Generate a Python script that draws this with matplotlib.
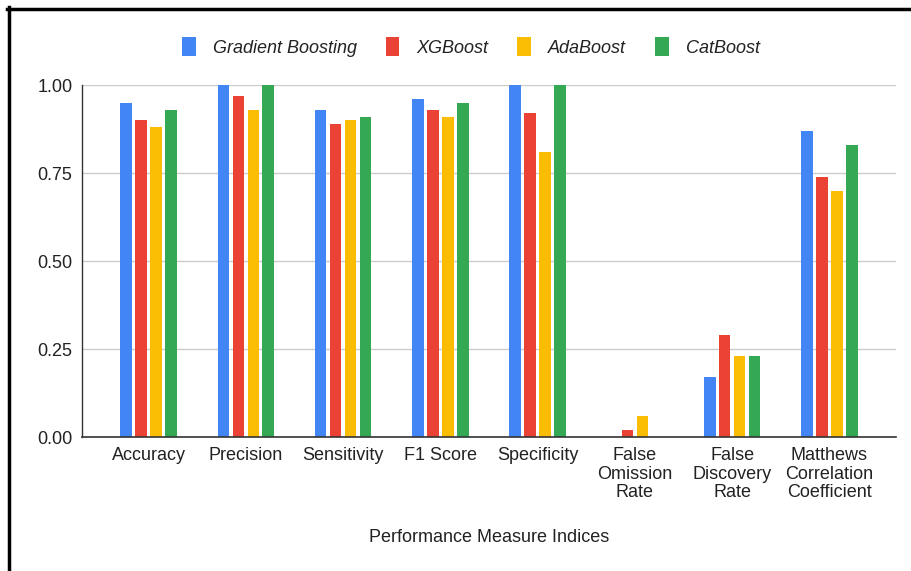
import matplotlib
matplotlib.use("Agg")
import matplotlib.pyplot as plt
from matplotlib.lines import Line2D
from matplotlib.patches import Patch
import numpy as np

categories = ["Accuracy", "Precision", "Sensitivity", "F1 Score", "Specificity",
              "False\nOmission\nRate", "False\nDiscovery\nRate",
              "Matthews\nCorrelation\nCoefficient"]
series_names = ["Gradient Boosting", "XGBoost", "AdaBoost", "CatBoost"]
gradient_boosting = [0.95, 1.00, 0.93, 0.96, 1.00, 0.00, 0.17, 0.87]
xgboost = [0.90, 0.97, 0.89, 0.93, 0.92, 0.02, 0.29, 0.74]
adaboost = [0.88, 0.93, 0.90, 0.91, 0.81, 0.06, 0.23, 0.70]
catboost = [0.93, 1.00, 0.91, 0.95, 1.00, 0.00, 0.23, 0.83]
y_ticks = [0.00, 0.25, 0.50, 0.75, 1.00]
y_tick_labels = ["0.00", "0.25", "0.50", "0.75", "1.00"]
x_title = "Performance Measure Indices"

colors = ["#4285F4", "#EA4335", "#FBBC04", "#34A853"]
font = "Liberation Sans"
fs = 13
txt = "#222222"

fig = plt.figure(figsize=(9.12, 5.71), dpi=100)
ax = fig.add_axes([82/912, 1 - 437/571, (896-82)/912, (437-85)/571])

x = np.arange(len(categories))
step = 0.154
width = 0.12
all_series = [gradient_boosting, xgboost, adaboost, catboost]
for i, (vals, c, name) in enumerate(zip(all_series, colors, series_names)):
    ax.bar(x + (i - 1.5) * step, vals, width=width, color=c, label=name, zorder=3)

ax.set_xlim(-0.5 - 0.185, len(categories) - 0.5 + 0.185)
ax.set_ylim(0, 1.0)
ax.set_yticks(y_ticks)
ax.set_yticklabels(y_tick_labels, fontsize=fs, family=font, color=txt)
ax.set_xticks(x)
ax.set_xticklabels(categories, fontsize=fs, family=font, color=txt, linespacing=1.1, va="top")
ax.tick_params(axis="both", length=0)
ax.tick_params(axis="x", pad=7.5)
ax.tick_params(axis="y", pad=7)
ax.grid(axis="y", color="#cccccc", linewidth=1, zorder=0)
for s in ["top", "right"]:
    ax.spines[s].set_visible(False)
ax.spines["left"].set_color("#333333")
ax.spines["bottom"].set_color("#333333")
ax.spines["left"].set_linewidth(1)
ax.spines["bottom"].set_linewidth(1.2)
ax.spines["left"].set_zorder(4)
ax.spines["bottom"].set_zorder(4)

fig.text(489/912, 1 - 537/571, x_title, ha="center", va="center",
         fontsize=fs, family=font, color=txt)

handles = [Patch(facecolor=c, edgecolor="none") for c in colors]
fig.legend(handles, series_names, loc="center", bbox_to_anchor=(471/912, 1 - 47/571),
           ncol=4, frameon=False, handlelength=0.75, handleheight=1.2, handletextpad=0.95,
           columnspacing=1.6, prop={"family": font, "size": fs, "style": "italic"},
           labelcolor=txt)

# black frame (left and top)
fig.add_artist(Line2D([9/912, 9/912], [0, 1 - 7/571], color="black", linewidth=2.5,
                      transform=fig.transFigure))
fig.add_artist(Line2D([7/912, 1], [1 - 9/571, 1 - 9/571], color="black", linewidth=2.5,
                      transform=fig.transFigure))

fig.savefig("out.png", dpi=100)
